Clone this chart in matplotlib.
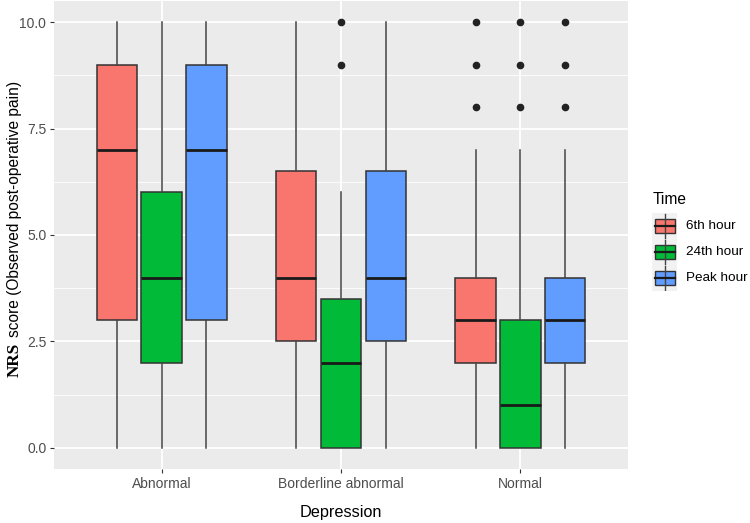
import matplotlib
matplotlib.use("Agg")
import matplotlib.pyplot as plt
from matplotlib.patches import Rectangle

# ---- data ----
categories = ["Abnormal", "Borderline abnormal", "Normal"]
times = ["6th hour", "24th hour", "Peak hour"]
colors = ["#F8766D", "#00BA38", "#619CFF"]

# per time: lists over categories
q1 = {"6th hour": [3, 2.5, 2], "24th hour": [2, 0, 0], "Peak hour": [3, 2.5, 2]}
med = {"6th hour": [7, 4, 3], "24th hour": [4, 2, 1], "Peak hour": [7, 4, 3]}
q3 = {"6th hour": [9, 6.5, 4], "24th hour": [6, 3.5, 3], "Peak hour": [9, 6.5, 4]}
whislo = {"6th hour": [0, 0, 0], "24th hour": [0, 0, 0], "Peak hour": [0, 0, 0]}
whishi = {"6th hour": [10, 10, 7], "24th hour": [10, 6, 7], "Peak hour": [10, 10, 7]}
fliers = {"6th hour": [[], [], [8, 9, 10]],
          "24th hour": [[], [9, 10], [8, 9, 10]],
          "Peak hour": [[], [], [8, 9, 10]]}

yticks = [0, 2.5, 5, 7.5, 10]
ytick_labels = ["0.0", "2.5", "5.0", "7.5", "10.0"]

W, H = 750, 523
fig = plt.figure(figsize=(W / 100, H / 100), dpi=100)
L, R, T, B = 54, 628, 1, 469
ax = fig.add_axes([L / W, 1 - B / H, (R - L) / W, (B - T) / H])
ax.set_facecolor("#EBEBEB")
ax.set_xlim(0.4, 3.6)
ax.set_ylim(-0.5, 10.5)
for s in ax.spines.values():
    s.set_visible(False)

ax.set_yticks(yticks)
ax.set_yticklabels(ytick_labels)
ax.set_yticks([1.25, 3.75, 6.25, 8.75], minor=True)
ax.set_xticks([1, 2, 3])
ax.set_xticklabels(categories)
ax.set_axisbelow(True)
ax.grid(which="major", color="white", linewidth=1.3)
ax.grid(which="minor", axis="y", color="white", linewidth=0.6)
ax.tick_params(which="major", length=3, width=0.8, color="#333333",
               labelcolor="#4D4D4D", labelsize=10, pad=2.5)
ax.tick_params(which="minor", length=0)
for lab in ax.get_xticklabels() + ax.get_yticklabels():
    lab.set_fontfamily("Liberation Sans")

offsets = [-0.25, 0.0, 0.25]
for ti, t in enumerate(times):
    stats = []
    for ci in range(len(categories)):
        stats.append({"med": med[t][ci], "q1": q1[t][ci], "q3": q3[t][ci],
                      "whislo": whislo[t][ci], "whishi": whishi[t][ci],
                      "fliers": fliers[t][ci]})
    pos = [ci + 1 + offsets[ti] for ci in range(len(categories))]
    ax.bxp(stats, positions=pos, widths=0.225, patch_artist=True,
           showcaps=False, manage_ticks=False,
           boxprops=dict(facecolor=colors[ti], edgecolor="#333333", linewidth=1.1),
           medianprops=dict(color="#1A1A1A", linewidth=2.0),
           whiskerprops=dict(color="#444444", linewidth=1.1),
           flierprops=dict(marker="o", markerfacecolor="#222222",
                           markeredgecolor="#222222", markersize=4.5))

# x axis title
fig.text((L + R) / 2 / W, 1 - 512 / H, "Depression", ha="center", va="center",
         fontsize=11.7, family="Liberation Sans", color="black")

# y axis title: bold serif "NRS" + sans rest
t1 = fig.text(15 / W, 0.5, "NRS", rotation=90, ha="center", va="bottom",
              fontsize=12.3, family="Liberation Serif", fontweight="bold")
t2 = fig.text(15 / W, 0.5, "score (Observed post-operative pain)", rotation=90,
              ha="center", va="bottom", fontsize=11.2, family="Liberation Sans")
fig.canvas.draw()
r = fig.canvas.get_renderer()
h1 = t1.get_window_extent(r).height
h2 = t2.get_window_extent(r).height
gap = 5
total = h1 + gap + h2
center = H - 229
start = center - total / 2
t1.set_y(start / H)
t2.set_y((start + h1 + gap) / H)

# legend
fig.text(653 / W, 1 - 200 / H, "Time", ha="left", va="center", fontsize=11.2,
         family="Liberation Sans")
lax = fig.add_axes([652 / W, 1 - 291 / H, 25 / W, 78 / H])
lax.set_xlim(0, 1)
lax.set_ylim(0, 3)
lax.set_axis_off()
lax.add_patch(Rectangle((0, 0), 1, 3, facecolor="#F2F2F2", edgecolor="none"))
for ti, t in enumerate(times):
    yc = 2.5 - ti
    lax.plot([0.5, 0.5], [yc - 0.45, yc + 0.45], color="#444444", lw=1.0)
    lax.add_patch(Rectangle((0.1, yc - 0.27), 0.8, 0.54, facecolor=colors[ti],
                            edgecolor="#333333", lw=1.0))
    lax.plot([0.1, 0.9], [yc, yc], color="#1A1A1A", lw=1.6)
    fig.text(686 / W, 1 - (291 - 78 * (yc / 3)) / H, t, ha="left", va="center",
             fontsize=9.7, family="Liberation Sans", color="black")

fig.savefig("out.png", dpi=100)
